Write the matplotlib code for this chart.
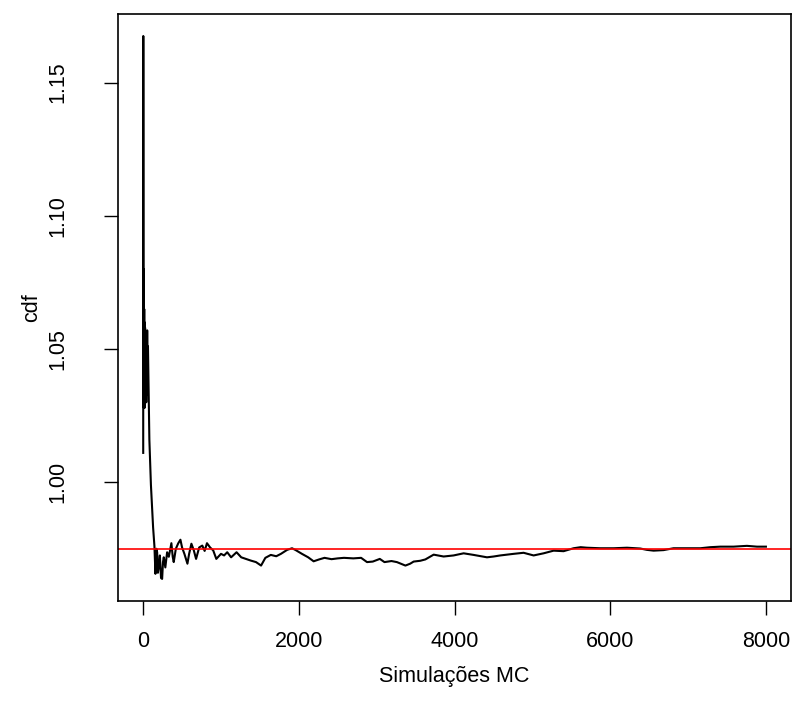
#!/usr/bin/env python3
"""Running Monte Carlo estimate of cdf vs. number of simulations."""

import matplotlib

matplotlib.use("Agg")
import matplotlib.pyplot as plt

# running estimate (simulation index, cdf value)
sim_n = [
    1, 2, 3, 4, 5, 6, 7, 8, 10, 12, 14, 16, 19, 22, 25, 28, 31, 34, 37, 40,
    44, 48, 52, 56, 62, 68, 80, 100,
    128, 145, 158, 170, 180, 190, 200, 215, 230, 244, 255, 265, 285, 308,
    330, 363, 380, 393, 420, 450, 479, 500, 530, 569, 590, 620, 650, 680,
    720, 760, 790, 820, 860, 900, 940, 1000, 1040, 1080, 1130, 1200, 1260,
    1380, 1450, 1515, 1570, 1640, 1710, 1770, 1850, 1913, 1960, 2040, 2120,
    2190, 2260, 2330, 2420, 2500, 2580, 2700, 2800, 2876, 2950, 3040, 3100,
    3190, 3260, 3369, 3430, 3475, 3560, 3625, 3732, 3860, 3988, 4117, 4245,
    4417, 4502, 4588, 4759, 4887, 5016, 5144, 5273, 5401, 5529, 5620, 5701,
    5872, 6043, 6215, 6386, 6470, 6557, 6685, 6813, 6986, 7157, 7285, 7414,
    7584, 7756, 7885, 8000,
]
cdf_est = [
    1.011, 1.1675, 1.087, 1.035, 1.080, 1.030, 1.070, 1.028, 1.075, 1.032,
    1.065, 1.030, 1.060, 1.028, 1.058, 1.030, 1.055, 1.032, 1.053, 1.030,
    1.050, 1.033, 1.057, 1.040, 1.051, 1.040, 1.016, 0.999,
    0.983, 0.976, 0.9656, 0.975, 0.9737, 0.966, 0.9681, 0.9725, 0.964,
    0.9637, 0.970, 0.9718, 0.968, 0.9737, 0.972, 0.9771, 0.972, 0.9700,
    0.975, 0.977, 0.9784, 0.9755, 0.9731, 0.9694, 0.973, 0.9769, 0.9745,
    0.9712, 0.9755, 0.9762, 0.9742, 0.9771, 0.9755, 0.9744, 0.9712, 0.9731,
    0.9725, 0.9737, 0.9718, 0.9737, 0.9718, 0.9706, 0.9700, 0.9687, 0.9716,
    0.9727, 0.9722, 0.9731, 0.9746, 0.9752, 0.9745, 0.9731, 0.9718, 0.9703,
    0.9710, 0.9716, 0.9711, 0.9714, 0.9716, 0.9714, 0.9716, 0.9700, 0.9702,
    0.9712, 0.9700, 0.9704, 0.9700, 0.9687, 0.9694, 0.9702, 0.9705, 0.9710,
    0.9728, 0.9721, 0.9725, 0.9733, 0.9727, 0.9718, 0.9721, 0.9725, 0.9731,
    0.9735, 0.9725, 0.9733, 0.9743, 0.9741, 0.9752, 0.9756, 0.9754, 0.9752,
    0.9752, 0.9754, 0.9751, 0.9746, 0.9743, 0.9745, 0.9752, 0.9752, 0.9752,
    0.9756, 0.9758, 0.9758, 0.9761, 0.9758, 0.9758,
]
true_value = 0.975

x_ticks = [0, 2000, 4000, 6000, 8000]
y_ticks = [1.00, 1.05, 1.10, 1.15]
y_tick_labels = ["1.00", "1.05", "1.10", "1.15"]

plt.rcParams["font.family"] = ["Liberation Sans", "DejaVu Sans"]
plt.rcParams["font.size"] = 15.5

fig = plt.figure(figsize=(7.94, 7.15), dpi=100)
ax = fig.add_axes([0.149, 0.160, 0.847, 0.820])

ax.plot(sim_n, cdf_est, color="black", linewidth=1.5)
ax.axhline(true_value, color="red", linewidth=1.2)

ax.margins(x=0.04, y=0.04)
ax.set_xticks(x_ticks, [str(v) for v in x_ticks])
ax.set_yticks(y_ticks, y_tick_labels)
for lbl in ax.get_yticklabels():
    lbl.set_rotation(90)
    lbl.set_va("center")

ax.tick_params(length=10, width=1.0, direction="out")
ax.tick_params(axis="x", pad=12)
ax.tick_params(axis="y", pad=26)
for sp in ax.spines.values():
    sp.set_linewidth(1.2)

ax.set_xlabel("Simulações MC", labelpad=10)
ax.set_ylabel("cdf", labelpad=4)

fig.savefig("out.png", dpi=100)
